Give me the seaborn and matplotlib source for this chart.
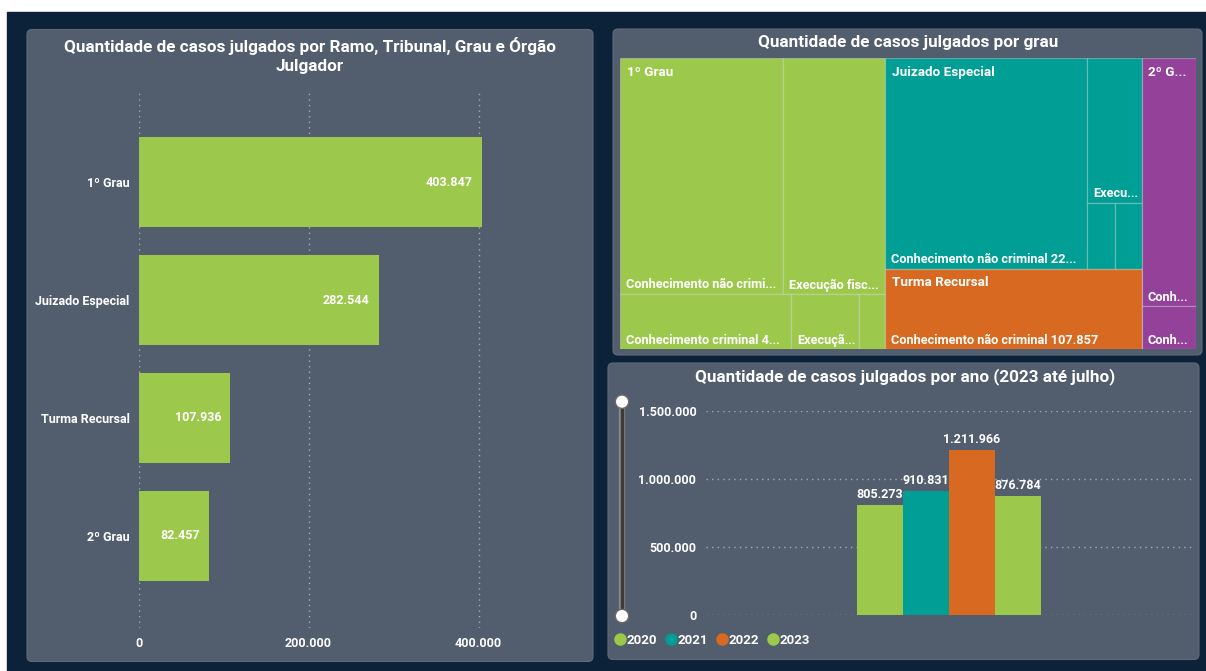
import numpy as np
import pandas as pd
import seaborn as sns
import matplotlib.pyplot as plt
from matplotlib.patches import FancyBboxPatch, Rectangle, Circle
from matplotlib.lines import Line2D

# %%
# casos julgados em 2023 por grau
graus = ["1º Grau", "Juizado Especial", "Turma Recursal", "2º Grau"]
casos_grau = [403847, 282544, 107936, 82457]

# casos julgados por ano
anos = ["2020", "2021", "2022", "2023"]
casos_ano = [805273, 910831, 1211966, 876784]

# treemap: folhas (classe) dentro de cada grau
folha_grau = [0, 0, 0, 0, 0, 1, 1, 1, 1, 2, 2, 3, 3]
folha_valor = [200900, 126500, 49200, 19700, 7547,
               222200, 41400, 9600, 9344,
               107857, 79,
               70300, 12157]
folha_texto = ["Conhecimento não crimi...", "Execução fisc...",
               "Conhecimento criminal 4...", "Execuçã...", "",
               "Conhecimento não criminal 22...", "Execu...", "", "",
               "Conhecimento não criminal 107.857", "",
               "Conh...", "Conh..."]
grupo_texto = ["1º Grau", "Juizado Especial", "Turma Recursal", "2º G..."]
# agrupamento das folhas (fatias alternadas horizontal / vertical)
arvore = [
    [[0, 1], [2, 3, 4]],
    [[5, [6, [7, 8]]], [9, 10]],
    [11, 12],
]

# cores
NAVY = "#0C2239"
PAINEL = "#525D6E"
GRADE = "#A4ACB8"
VERDE = "#9CC94C"
TEAL = "#009E94"
LARANJA = "#D86920"
ROXO = "#934199"
cores_grau = [VERDE, TEAL, LARANJA, ROXO]
cores_ano = [VERDE, TEAL, LARANJA, VERDE]

sns.set_style("dark")
plt.rcParams['font.family'] = ['Roboto', 'DejaVu Sans']
plt.rcParams['font.weight'] = 'bold'

W, H = 1206, 671
fig = plt.figure(figsize=(W / 100, H / 100), dpi=100, facecolor="white")


def fmt(v):
    return f"{v:,}".replace(",", ".")


def eixo(x0, y0, x1, y1):
    return fig.add_axes([x0 / W, 1 - y1 / H, (x1 - x0) / W, (y1 - y0) / H])


def txt(x, y, s, **kw):
    fig.text(x / W, 1 - y / H, s, color="white", fontweight="bold", **kw)


def painel(x0, y0, x1, y1):
    fig.patches.append(FancyBboxPatch(
        (x0 / 100, (H - y1) / 100), (x1 - x0) / 100, (y1 - y0) / 100,
        boxstyle="round,pad=0,rounding_size=0.05",
        transform=fig.dpi_scale_trans, facecolor=PAINEL,
        edgecolor="#5E6A7C", linewidth=0.8, zorder=-5))


# fundo
fig.patches.append(Rectangle((7 / W, 0), 1 - 7 / W, 1 - 12 / H,
                             transform=fig.transFigure, color=NAVY, zorder=-10))
painel(27, 29.5, 593, 661.5)
painel(613, 29, 1202, 355)
painel(608, 363, 1199, 659.5)

# %% barras horizontais por grau
ax1 = eixo(138.5, 90, 563.5, 628)
df_grau = pd.DataFrame({"grau": graus, "casos": casos_grau})
sns.barplot(data=df_grau, y="grau", x="casos", color=VERDE, saturation=1,
            width=0.763, linewidth=0, ax=ax1)
ax1.set_facecolor("none")
ax1.set_xlim(0, 500000)
ax1.set_ylim(3.78, -0.78)
ax1.set_xticks([0, 200000, 400000])
ax1.set_xticklabels([fmt(v) for v in [0, 200000, 400000]])
ax1.set_xlabel("")
ax1.set_ylabel("")
ax1.xaxis.grid(True, linestyle=(0, (1, 3)), color=GRADE, linewidth=1)
ax1.yaxis.grid(False)
ax1.set_axisbelow(True)
ax1.tick_params(axis="x", colors="white", labelsize=9, length=0, pad=6.5)
ax1.tick_params(axis="y", colors="white", labelsize=9, length=0, pad=6.5)
for s in ax1.spines.values():
    s.set_visible(False)
for p, v in zip(ax1.patches, casos_grau):
    ax1.annotate(fmt(v), (p.get_width(), p.get_y() + p.get_height() / 2),
                 xytext=(-9, 0), textcoords="offset pixels", ha="right",
                 va="center", color="white", fontsize=9, fontweight="bold")
txt(310, 55.5, "Quantidade de casos julgados por Ramo, Tribunal, Grau e Órgão\nJulgador",
    ha="center", va="center", fontsize=12.3, linespacing=1.35)

# %% treemap por grau
ax2 = eixo(620.3, 58.3, 1196, 349)
ax2.set_xlim(0, 1)
ax2.set_ylim(1, 0)
ax2.axis("off")


def soma(no):
    return folha_valor[no] if isinstance(no, int) else sum(soma(c) for c in no)


def fatia(no, x, y, w, h, horiz, saida):
    if isinstance(no, int):
        saida[no] = (x, y, w, h)
        return
    total = soma(no)
    for c in no:
        t = soma(c) / total
        if horiz:
            fatia(c, x, y, w * t, h, False, saida)
            x += w * t
        else:
            fatia(c, x, y, w, h * t, True, saida)
            y += h * t


rects = {}
fatia(arvore, 0, 0, 1, 1, True, rects)
for i, (x, y, w, h) in rects.items():
    ax2.add_patch(Rectangle((x, y), w, h, facecolor=cores_grau[folha_grau[i]],
                            edgecolor=(1, 1, 1, 0.28), linewidth=0.9))
    if folha_texto[i]:
        ax2.annotate(folha_texto[i], (x, y + h), xytext=(6, 9),
                     textcoords="offset pixels", ha="left", va="center",
                     color="white", fontsize=9.2, fontweight="bold")
for g, nome in enumerate(grupo_texto):
    gx = min(rects[i][0] for i in rects if folha_grau[i] == g)
    gy = min(rects[i][1] for i in rects if folha_grau[i] == g)
    ax2.annotate(nome, (gx, gy), xytext=(6.5, -14), textcoords="offset pixels",
                 ha="left", va="center", color="white", fontsize=9.7,
                 fontweight="bold")
txt(908, 43, "Quantidade de casos julgados por grau", ha="center",
    va="center", fontsize=12.3)

# %% colunas por ano
ax3 = eixo(706, 410.7, 1191.5, 615.3)
df_ano = pd.DataFrame({"grupo": ["total"] * 4, "ano": anos, "casos": casos_ano})
sns.barplot(data=df_ano, x="grupo", y="casos", hue="ano",
            palette=dict(zip(anos, cores_ano)), saturation=1, width=0.378,
            linewidth=0, legend=False, ax=ax3)
ax3.set_facecolor("none")
ax3.set_xlim(-0.5, 0.5)
ax3.set_ylim(0, 1500000)
ax3.set_yticks([0, 500000, 1000000, 1500000])
ax3.set_yticklabels([fmt(v) for v in [0, 500000, 1000000, 1500000]])
ax3.set_xticks([])
ax3.set_xlabel("")
ax3.set_ylabel("")
ax3.yaxis.grid(True, linestyle=(0, (1, 3)), color=GRADE, linewidth=1)
ax3.xaxis.grid(False)
ax3.set_axisbelow(True)
ax3.tick_params(axis="y", colors="white", labelsize=9, length=0, pad=7)
for s in ax3.spines.values():
    s.set_visible(False)
for c, v in zip(ax3.containers, casos_ano):
    ax3.bar_label(c, labels=[fmt(v)], padding=3, color="white", fontsize=9,
                  fontweight="bold")
txt(905, 377, "Quantidade de casos julgados por ano (2023 até julho)",
    ha="center", va="center", fontsize=12.3)

# legenda
handles = [Line2D([], [], marker="o", linestyle="", markersize=8, color=c)
           for c in cores_ano]
fig.legend(handles, anos, loc="center left", bbox_to_anchor=(615 / W, 1 - 640 / H),
           ncol=4, frameon=False, handletextpad=0.1, columnspacing=0.65,
           handlelength=0.8, borderaxespad=0, borderpad=0, labelcolor="white",
           prop={"weight": "bold", "size": 9.5})

# slider de zoom
fig.add_artist(Line2D([622 / W] * 2, [1 - 401.7 / H, 1 - 616 / H],
                      transform=fig.transFigure, color="#8A8A8A", lw=4.5,
                      zorder=2))
fig.add_artist(Line2D([622 / W] * 2, [1 - 401.7 / H, 1 - 616 / H],
                      transform=fig.transFigure, color="#3B3B3B", lw=2.5,
                      zorder=2))
for yy in [401.7, 616]:
    fig.add_artist(Circle((6.22, (H - yy) / 100), 0.067,
                          transform=fig.dpi_scale_trans, facecolor="white",
                          edgecolor="#6B6B6B", lw=1, zorder=5))

fig.savefig("out.png", dpi=100, facecolor=fig.get_facecolor())
